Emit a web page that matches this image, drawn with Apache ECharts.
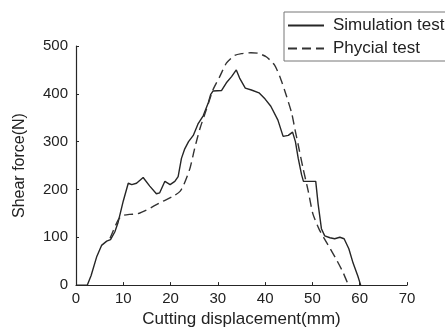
<!DOCTYPE html>
<html><head><meta charset="utf-8">
<script src="https://cdn.jsdelivr.net/npm/echarts@6/dist/echarts.min.js"></script>
<style>html,body{margin:0;padding:0;background:#fff}#c{width:445px;height:333px}</style>
</head><body><div id="c"></div>
<script>
const seriesNames = ['Simulation test', 'Phycial test'];
const xTicks = [0, 10, 20, 30, 40, 50, 60, 70];
const yTicks = [0, 100, 200, 300, 400, 500];
const simX = [0,2.4,3.2,4.4,5.4,6.5,7.3,8.2,8.9,10.0,11.05,11.8,12.8,14.2,15.6,17.0,17.7,18.8,19.9,20.9,21.6,22.3,23.0,23.8,24.8,25.8,26.9,28.0,28.5,29.0,30.8,31.8,32.9,33.9,34.6,35.8,37.1,38.7,40.0,41.2,42.7,43.8,44.9,45.8,46.4,47.0,47.7,48.1,50.7,51.2,51.9,52.6,53.7,54.7,55.8,56.7,57.7,58.6,59.6,60.2];
const simY = [0,0,20,60,83,92,95,111,131,176,213,210,213,225,207,191,193,217,210,217,227,265,285,300,313,337,354,382,399,406,407,423,436,450,433,412,408,402,389,374,345,311,313,320,300,265,231,217,217,170,118,103,99,97,100,97,76,46,19,0];
const phyX = [7.2,7.9,8.9,9.7,11.4,13.0,15.3,17.7,20.6,22.0,22.8,24.1,25.1,26.2,27.6,29.0,30.4,31.8,33.5,35.0,37.0,38.5,40.3,42.0,43.1,44.2,45.6,46.3,47.0,48.0,49.1,50.1,51.5,53.3,55.1,56.5,57.6];
const phyY = [98,114,136,145,148,149,159,172,186,196,210,244,286,327,368,409,436,464,480,484,486,485,477,460,436,405,360,326,293,245,197,149,115,84,53,26,0];

const pair = (xs, ys) => xs.map((x, i) => [x, ys[i]]);
const ink = '#262626';
const font = 'Liberation Sans, Arial, sans-serif';

const chart = echarts.init(document.getElementById('c'), null, {renderer: 'canvas'});
chart.setOption({
  animation: false,
  backgroundColor: '#fff',
  grid: {left: 76, right: 38, top: 46, bottom: 44, containLabel: false},
  legend: {
    orient: 'vertical', left: 284, top: 12,
    data: seriesNames,
    itemWidth: 36, itemHeight: 2, itemGap: 6,
    padding: [5, 40, 4, 3],
    borderColor: '#777', borderWidth: 1,
    itemStyle: {opacity: 0},
    textStyle: {fontFamily: font, fontSize: 17, color: '#222', padding: [0, 0, 0, 4]}
  },
  xAxis: {
    type: 'value', min: xTicks[0], max: xTicks[xTicks.length - 1], interval: 10,
    name: 'Cutting displacement(mm)', nameLocation: 'middle', nameGap: 25,
    nameTextStyle: {fontFamily: font, fontSize: 17, color: '#222'},
    axisLine: {show: true, lineStyle: {color: ink, width: 1.2}},
    axisTick: {show: true, inside: true, length: 3, lineStyle: {color: ink}},
    axisLabel: {fontFamily: font, fontSize: 15, color: '#222', margin: 6},
    splitLine: {show: false}
  },
  yAxis: {
    type: 'value', min: yTicks[0], max: yTicks[yTicks.length - 1], interval: 100,
    name: 'Shear force(N)', nameLocation: 'middle', nameGap: 48,
    nameTextStyle: {fontFamily: font, fontSize: 16, color: '#222'},
    axisLine: {show: true, lineStyle: {color: ink, width: 1.2}},
    axisTick: {show: true, inside: true, length: 3, lineStyle: {color: ink}},
    axisLabel: {fontFamily: font, fontSize: 15, color: '#222', margin: 8},
    splitLine: {show: false}
  },
  series: [
    {name: seriesNames[0], type: 'line', symbol: 'none', data: pair(simX, simY),
     lineStyle: {color: ink, width: 1.4, type: 'solid'}, itemStyle: {color: ink}},
    {name: seriesNames[1], type: 'line', symbol: 'none', data: pair(phyX, phyY), smooth: 0.2,
     lineStyle: {color: '#333', width: 1.4, type: [9, 5]}, itemStyle: {color: '#333'}}
  ]
});
</script></body></html>
